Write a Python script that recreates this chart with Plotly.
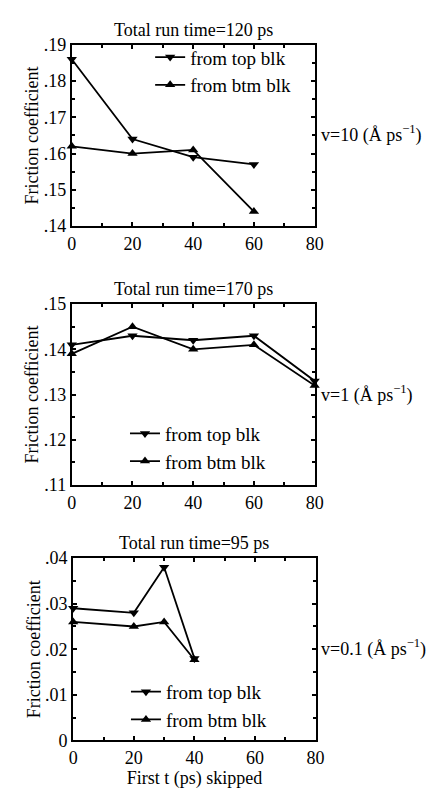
import plotly.graph_objects as go

W, H = 433, 793

# ---- data ----
x_p1 = [0, 20, 40, 60]
top_p1 = [0.186, 0.164, 0.159, 0.157]
btm_p1 = [0.162, 0.160, 0.161, 0.144]

x_p2 = [0, 20, 40, 60, 80]
top_p2 = [0.141, 0.143, 0.142, 0.143, 0.133]
btm_p2 = [0.139, 0.145, 0.140, 0.141, 0.132]

x_p3 = [0, 20, 30, 40]
top_p3 = [0.029, 0.028, 0.038, 0.018]
btm_p3 = [0.026, 0.025, 0.026, 0.0177]

titles = ["Total run time=120 ps", "Total run time=170 ps", "Total run time=95 ps"]
velocities = ["v=10 (Å ps<sup>−1</sup>)", "v=1 (Å ps<sup>−1</sup>)", "v=0.1 (Å ps<sup>−1</sup>)"]
series_names = ["from top blk", "from btm blk"]

y_ticks_p1 = [0.14, 0.15, 0.16, 0.17, 0.18, 0.19]
y_labels_p1 = [".14", ".15", ".16", ".17", ".18", ".19"]
y_ticks_p2 = [0.11, 0.12, 0.13, 0.14, 0.15]
y_labels_p2 = [".11", ".12", ".13", ".14", ".15"]
y_ticks_p3 = [0, 0.01, 0.02, 0.03, 0.04]
y_labels_p3 = ["0", ".01", ".02", ".03", ".04"]
x_ticks = [0, 20, 40, 60, 80]

# ---- layout geometry (pixels) ----
def px_x(p):
    return p / W

def px_y(p):
    return 1 - p / H

panels = [
    dict(x=x_p1, top=top_p1, btm=btm_p1, yr=[0.14, 0.19], yt=y_ticks_p1, yl=y_labels_p1,
         left=69, right=320, ytop=35.7, ybot=221.7, leg=(150, 29)),
    dict(x=x_p2, top=top_p2, btm=btm_p2, yr=[0.11, 0.15], yt=y_ticks_p2, yl=y_labels_p2,
         left=69, right=320, ytop=301.7, ybot=487.3, leg=(124, 415)),
    dict(x=x_p3, top=top_p3, btm=btm_p3, yr=[0, 0.04], yt=y_ticks_p3, yl=y_labels_p3,
         left=70.5, right=321, ytop=562.3, ybot=749.3, leg=(125, 680)),
]

FONT = "Liberation Serif"
fig = go.Figure()
layout = dict(
    width=W, height=H, margin=dict(l=0, r=0, t=0, b=0),
    paper_bgcolor="white", plot_bgcolor="white",
    font=dict(family=FONT, color="black", size=18),
    annotations=[],
)

for i, p in enumerate(panels):
    n = i + 1
    xa = "x" if n == 1 else f"x{n}"
    ya = "y" if n == 1 else f"y{n}"
    leg = "legend" if n == 1 else f"legend{n}"
    fig.add_trace(go.Scatter(
        x=p["x"], y=p["top"], mode="lines+markers", name=series_names[0],
        xaxis=xa, yaxis=ya, legend=leg, cliponaxis=False,
        line=dict(color="black", width=1.8),
        marker=dict(symbol="triangle-down", size=9, color="black")))
    fig.add_trace(go.Scatter(
        x=p["x"], y=p["btm"], mode="lines+markers", name=series_names[1],
        xaxis=xa, yaxis=ya, legend=leg, cliponaxis=False,
        line=dict(color="black", width=1.8),
        marker=dict(symbol="triangle-up", size=9, color="black")))

    axkey_x = "xaxis" if n == 1 else f"xaxis{n}"
    axkey_y = "yaxis" if n == 1 else f"yaxis{n}"
    layout[axkey_x] = dict(
        domain=[px_x(p["left"]), px_x(p["right"])], anchor=ya,
        range=[0, 80], tickvals=x_ticks, ticktext=[str(v) for v in x_ticks],
        ticks="inside", ticklen=4, tickwidth=1.5, tickcolor="black",
        showline=True, linecolor="black", linewidth=2, mirror="ticks",
        showgrid=False, zeroline=False, tickfont=dict(size=18, family=FONT),
        minor=dict(dtick=10, tick0=0, ticks="inside", ticklen=3, tickcolor="black", showgrid=False),
    )
    layout[axkey_y] = dict(
        domain=[px_y(p["ybot"]), px_y(p["ytop"])], anchor=xa,
        range=p["yr"], tickvals=p["yt"], ticktext=p["yl"],
        ticks="inside", ticklen=4, tickwidth=1.5, tickcolor="black",
        showline=True, linecolor="black", linewidth=2, mirror="ticks",
        showgrid=False, zeroline=False, tickfont=dict(size=18, family=FONT),
        minor=dict(dtick=0.005, tick0=0, ticks="inside", ticklen=3, tickcolor="black", showgrid=False),
        title=dict(text="Friction coefficient", font=dict(size=18, family=FONT), standoff=0),
    )
    layout[leg] = dict(
        x=px_x(p["leg"][0]), y=px_y(p["leg"][1]), xanchor="left", yanchor="top",
        bgcolor="rgba(0,0,0,0)", font=dict(size=19, family=FONT), tracegroupgap=0,
    )
    layout["annotations"].append(dict(
        text=titles[i], xref="paper", yref="paper",
        x=px_x((p["left"] + p["right"]) / 2), y=px_y(p["ytop"] - 15),
        xanchor="center", yanchor="middle", showarrow=False, font=dict(size=18, family=FONT)))
    layout["annotations"].append(dict(
        text=velocities[i], xref="paper", yref="paper",
        x=px_x(p["right"] + 4), y=px_y((p["ytop"] + p["ybot"]) / 2 - 1),
        xanchor="left", yanchor="middle", showarrow=False, font=dict(size=18, family=FONT)))

layout["xaxis3"]["title"] = dict(text="First t (ps) skipped", font=dict(size=18, family=FONT), standoff=2)

fig.update_layout(**layout)
fig.write_html("out.html")
